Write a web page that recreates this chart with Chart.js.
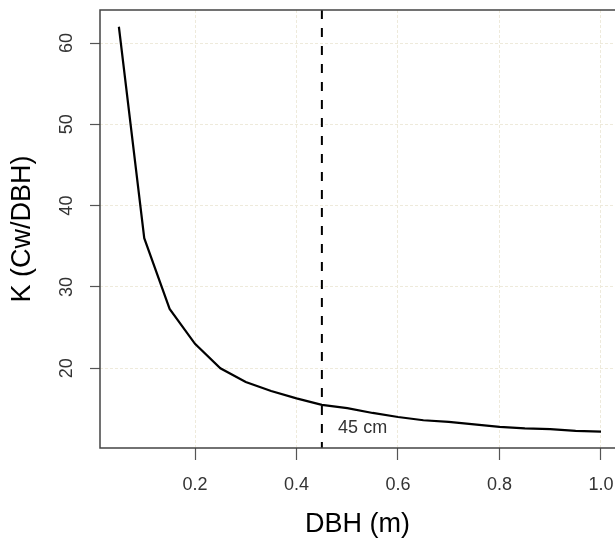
<!DOCTYPE html>
<html>
<head>
<meta charset="utf-8">
<script src="https://cdn.jsdelivr.net/npm/chart.js@4.4.1/dist/chart.umd.min.js"></script>
<style>
  html, body { margin: 0; padding: 0; background: #fff; }
  #wrap { width: 615px; height: 541px; }
</style>
</head>
<body>
<div id="wrap"><canvas id="chart" width="615" height="541"></canvas></div>
<script>
/* ================= DATA ================= */
const dbh = [0.05, 0.10, 0.15, 0.20, 0.25, 0.30, 0.35, 0.40, 0.45, 0.50,
             0.55, 0.60, 0.65, 0.70, 0.75, 0.80, 0.85, 0.90, 0.95, 1.00];
const kValues = [62.0, 36.0, 27.3, 23.0, 20.0, 18.3, 17.2, 16.3, 15.5, 15.1,
                 14.5, 14.0, 13.6, 13.4, 13.1, 12.8, 12.6, 12.5, 12.3, 12.2];
const xTicks = [0.2, 0.4, 0.6, 0.8, 1.0];
const yTicks = [20, 30, 40, 50, 60];
const cutoffX = [0.45, 0.45];
const xRange = [0.0128, 1.0276];
const yRange = [10.19, 64.06];
const cutoffLabel = "45 cm";

/* ================= STYLE ================= */
const FONT = "'Liberation Sans', Arial, sans-serif";
const GRID_COLOR = "#eeeadb";
const AXIS_COLOR = "#444";
const TEXT_COLOR = "#333";

/* ================= PLUGINS ================= */
const framePlugin = {
  id: "frame",
  afterDraw(chart) {
    const { ctx, chartArea: a, scales } = chart;
    ctx.save();
    ctx.strokeStyle = AXIS_COLOR;
    ctx.lineWidth = 1.5;
    ctx.beginPath();
    ctx.moveTo(chart.width, a.top);
    ctx.lineTo(a.left, a.top);
    ctx.lineTo(a.left, a.bottom);
    ctx.lineTo(chart.width, a.bottom);
    ctx.stroke();

    // label next to the dashed line
    ctx.fillStyle = TEXT_COLOR;
    ctx.font = `18px ${FONT}`;
    ctx.textAlign = "left";
    ctx.textBaseline = "middle";
    ctx.fillText(cutoffLabel, scales.x.getPixelForValue(0.482), scales.y.getPixelForValue(12.65));
    ctx.restore();
  },
};

/* ================= CHART ================= */
new Chart(document.getElementById("chart"), {
  type: "line",
  data: {
    datasets: [
      {
        data: dbh.map((x, i) => ({ x, y: kValues[i] })),
        borderColor: "#000",
        borderWidth: 2.2,
        pointRadius: 0,
        tension: 0,
      },
      {
        data: [
          { x: cutoffX[0], y: yRange[1] },
          { x: cutoffX[1], y: yRange[0] },
        ],
        borderColor: "#000",
        borderWidth: 2,
        borderDash: [9, 9],
        pointRadius: 0,
      },
    ],
  },
  options: {
    responsive: false,
    animation: false,
    events: [],
    layout: { padding: { top: 10, right: 0, bottom: 0, left: 0 } },
    plugins: { legend: { display: false }, tooltip: { enabled: false } },
    scales: {
      x: {
        type: "linear",
        min: xRange[0],
        max: xRange[1],
        afterBuildTicks: (s) => { s.ticks = xTicks.map((v) => ({ value: v })); },
        afterFit: (s) => { s.height = 93; s.paddingLeft = 0; s.paddingRight = 0; },
        border: { display: false, dash: [3, 2] },
        grid: { color: GRID_COLOR, lineWidth: 1, tickLength: 12, tickColor: "#555", tickWidth: 1.2 },
        ticks: {
          color: TEXT_COLOR,
          font: { family: FONT, size: 18 },
          padding: 14,
          maxRotation: 0,
          callback: (v) => Number(v).toFixed(1),
        },
        title: {
          display: true,
          text: "DBH (m)",
          color: "#000",
          font: { family: FONT, size: 27 },
          padding: { top: 0, bottom: 0 },
        },
      },
      y: {
        type: "linear",
        min: yRange[0],
        max: yRange[1],
        afterBuildTicks: (s) => { s.ticks = yTicks.map((v) => ({ value: v })); },
        afterFit: (s) => { s.width = 100; s.paddingTop = 0; s.paddingBottom = 0; },
        border: { display: false, dash: [3, 2] },
        grid: { color: GRID_COLOR, lineWidth: 1, tickLength: 10, tickColor: "#555", tickWidth: 1.2 },
        ticks: {
          color: TEXT_COLOR,
          font: { family: FONT, size: 18 },
          padding: 13,
          minRotation: 90,
          maxRotation: 90,
          crossAlign: "center",
          callback: (v) => String(v),
        },
        title: {
          display: true,
          text: "K (Cw/DBH)",
          color: "#000",
          font: { family: FONT, size: 27 },
          padding: { top: 6, bottom: 0 },
        },
      },
    },
  },
  plugins: [framePlugin],
});
</script>
</body>
</html>
